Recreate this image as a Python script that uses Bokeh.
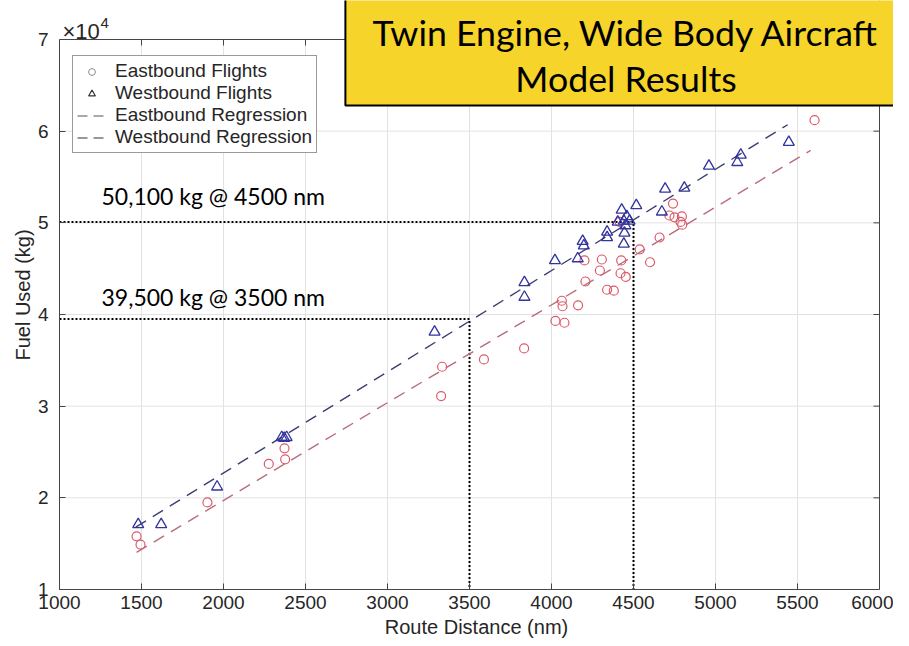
import math
from bokeh.plotting import figure
from bokeh.models import (Range1d, Label, Legend, LegendItem, FixedTicker, Span)
from bokeh.embed import file_html
from bokeh.resources import INLINE

# ---------------- data (fuel in units of 10^4 kg) ----------------
east_dist = [1470, 1494, 1902, 2276, 2372, 2376, 3327, 3333, 3588, 3833,
             4024, 4079, 4063, 4067, 4162, 4207, 4201, 4295, 4307, 4339,
             4380, 4425, 4421, 4453, 4416, 4538, 4601, 4659, 4719, 4741,
             4750, 4795, 4787, 4797, 5604]
east_fuel = [1.58, 1.49, 1.95, 2.37, 2.54, 2.42, 3.11, 3.43, 3.51, 3.63,
             3.93, 3.91, 4.15, 4.09, 4.10, 4.36, 4.59, 4.48, 4.60, 4.27,
             4.26, 4.59, 4.45, 4.41, 5.01, 4.71, 4.57, 4.84, 5.08, 5.21,
             5.06, 5.07, 5.01, 4.98, 6.12]

west_dist = [1480, 1620, 1961, 2355, 2370, 2385, 3287, 3835, 3835, 4021,
             4160, 4190, 4197, 4339, 4339, 4404, 4428, 4441, 4445, 4451,
             4459, 4441, 4476, 4517, 4673, 4693, 4810, 4960, 5133, 5154,
             5447]
west_fuel = [1.71, 1.71, 2.12, 2.66, 2.65, 2.66, 3.81, 4.35, 4.19, 4.59,
             4.61, 4.80, 4.75, 4.90, 4.84, 5.01, 5.14, 5.02, 4.89, 4.97,
             5.07, 4.77, 5.02, 5.19, 5.12, 5.37, 5.38, 5.62, 5.66, 5.74,
             5.88]

east_reg_dist = [1470, 5580]
east_reg_fuel = [1.406, 5.79]
west_reg_dist = [1465, 5440]
west_reg_fuel = [1.68, 6.07]

ref_dist = [4500, 3500]
ref_fuel = [5.01, 3.95]
ref_text = ["50,100 kg @ 4500 nm", "39,500 kg @ 3500 nm"]

x_ticks = [1000, 1500, 2000, 2500, 3000, 3500, 4000, 4500, 5000, 5500, 6000]
y_ticks = [1, 2, 3, 4, 5, 6, 7]
x_title = "Route Distance (nm)"
y_title = "Fuel Used (kg)"
y_scale_base = "\u00d710"
y_scale_exp = "4"
title_lines = ["Twin Engine, Wide Body Aircraft", "Model Results"]
legend_labels = ["Eastbound Flights", "Westbound Flights",
                 "Eastbound Regression", "Westbound Regression"]

# ---------------- layout / styles ----------------
W, H = 893, 642
LEFT, BOTTOM = 59, 53           # borders (px)
AXES_W, AXES_H = 820, 550       # size of the drawn axes box (px)
FRAME_W = W - LEFT              # frame runs to the right / top canvas edge
FRAME_H = H - BOTTOM
AX = "#454545"
TXT = "#262626"
GRID = "#e2e2e2"
SANS = "Liberation Sans"
HUMAN = "Lato"

xlo, xhi = x_ticks[0], x_ticks[-1]
ylo, yhi = y_ticks[0], y_ticks[-1]
x_end = xlo + (xhi - xlo) * FRAME_W / AXES_W
y_end = ylo + (yhi - ylo) * FRAME_H / AXES_H

p = figure(width=W, height=H,
           x_range=Range1d(xlo, x_end), y_range=Range1d(ylo, y_end),
           output_backend="svg", toolbar_location=None,
           min_border_left=LEFT, min_border_right=0,
           min_border_top=0, min_border_bottom=BOTTOM,
           x_axis_label=x_title, y_axis_label=y_title)
p.background_fill_color = "white"
p.border_fill_color = "white"
p.outline_line_color = None
p.xgrid.visible = False
p.ygrid.visible = False


def style_axis(ax, ticks, bounds):
    ax.ticker = FixedTicker(ticks=ticks)
    ax.bounds = bounds
    ax.major_tick_in = 6
    ax.major_tick_out = 0
    ax.minor_tick_line_color = None
    ax.axis_line_color = AX
    ax.major_tick_line_color = AX
    ax.major_label_text_font = SANS
    ax.major_label_text_font_size = "19px"
    ax.major_label_text_color = TXT
    ax.axis_label_text_font = SANS
    ax.axis_label_text_font_size = "20px"
    ax.axis_label_text_font_style = "normal"
    ax.axis_label_text_color = TXT


style_axis(p.xaxis[0], x_ticks, (xlo, xhi))
style_axis(p.yaxis[0], y_ticks, (ylo, yhi))
p.xaxis[0].major_label_standoff = 6
p.xaxis[0].axis_label_standoff = 4
p.yaxis[0].major_label_standoff = 11
p.yaxis[0].axis_label_standoff = 1

# grid (limited to the axes box)
p.segment(x0=x_ticks[1:-1], y0=[ylo] * (len(x_ticks) - 2),
          x1=x_ticks[1:-1], y1=[yhi] * (len(x_ticks) - 2),
          line_color=GRID, line_width=1)
p.segment(x0=[xlo] * (len(y_ticks) - 2), y0=y_ticks[1:-1],
          x1=[xhi] * (len(y_ticks) - 2), y1=y_ticks[1:-1],
          line_color=GRID, line_width=1)

# box top / right edges with inward ticks
p.add_layout(Span(location=yhi, dimension="width", line_color=AX,
                  line_width=1))
p.add_layout(Span(location=xhi, dimension="height", line_color=AX,
                  line_width=1))
p.ray(x=x_ticks[1:-1], y=[yhi] * (len(x_ticks) - 2), length=6,
      length_units="screen", angle=-math.pi / 2, line_color=AX)
p.ray(x=[xhi] * (len(y_ticks) - 2), y=y_ticks[1:-1], length=6,
      length_units="screen", angle=math.pi, line_color=AX)

# reference dotted lines
for xv, yv in zip(ref_dist, ref_fuel):
    p.line([xlo, xv, xv], [yv, yv, ylo], line_dash="2 2", line_width=2,
           line_color="black")

# regression lines
p.line(west_reg_dist, west_reg_fuel, line_dash="12 8", line_width=1.4,
       line_color="#3d3f70")
p.line(east_reg_dist, east_reg_fuel, line_dash="12 8", line_width=1.4,
       line_color="#b96c7e")

# flights
p.scatter(east_dist, east_fuel, marker="circle", size=9, fill_color=None,
          line_color="#dc5a6a", line_width=1.2)
p.scatter(west_dist, west_fuel, marker="triangle", size=11, fill_color=None,
          line_color="#34349e", line_width=1.3)

# legend (grey proxies, like the original)
nan = [float("nan")]
lg_e = p.scatter(nan, nan, marker="circle", size=7, fill_color=None,
                 line_color="#8c8c8c", line_width=1)
lg_w = p.scatter(nan, nan, marker="triangle", size=7, fill_color=None,
                 line_color="#333333", line_width=1.2)
lg_er = p.line(nan, nan, line_dash="10 6", line_width=1.2,
               line_color="#555555")
lg_wr = p.line(nan, nan, line_dash="10 6", line_width=1.2,
               line_color="#333333")
legend = Legend(items=[LegendItem(label=legend_labels[0], renderers=[lg_e]),
                       LegendItem(label=legend_labels[1], renderers=[lg_w]),
                       LegendItem(label=legend_labels[2], renderers=[lg_er]),
                       LegendItem(label=legend_labels[3], renderers=[lg_wr])],
                location=(13, 436), label_text_font=SANS,
                label_text_font_size="19px",
                label_text_color=TXT,
                glyph_width=29, glyph_height=17, label_height=17,
                label_standoff=9, spacing=0, padding=4, margin=0,
                border_line_color="#333333", border_line_width=1,
                background_fill_color="white", background_fill_alpha=1)
p.add_layout(legend)

# annotations for reference points
for xv, yv, t, dy in zip(ref_dist, ref_fuel, ref_text, [26, 22]):
    p.add_layout(Label(x=xlo, y=yv, x_offset=42, y_offset=dy, text=t,
                       text_font=HUMAN, text_font_size="23px",
                       text_color="black", text_baseline="alphabetic"))

# x10^4 exponent label
p.add_layout(Label(x=xlo, y=yhi, x_offset=3, y_offset=8,
                   text=y_scale_base, text_font=SANS, text_font_size="22px",
                   text_color=TXT, text_baseline="alphabetic"))
p.add_layout(Label(x=xlo, y=yhi, x_offset=41, y_offset=17,
                   text=y_scale_exp, text_font=SANS, text_font_size="15px",
                   text_color=TXT, text_baseline="alphabetic"))

# title box with shadow
title_text = "\n".join(title_lines)
pad = dict(left=27, right=15, top=60, bottom=5)
TX, TY = 560.5, 561
TFS = "35.7px"
TLH = 1.07
for dx, dy, alpha in [(5, -5, 0.22), (3, -3, 0.45)]:
    p.add_layout(Label(x=TX + dx, y=TY + dy, x_units="screen",
                       y_units="screen", text=title_text,
                       text_font=HUMAN, text_font_size=TFS,
                       text_align="center", text_baseline="middle",
                       text_line_height=TLH, text_alpha=0,
                       background_fill_color="#222222",
                       background_fill_alpha=alpha, padding=pad))
p.add_layout(Label(x=TX, y=TY, x_units="screen", y_units="screen",
                   text=title_text, text_font=HUMAN, text_font_size=TFS,
                   text_align="center", text_baseline="middle",
                   text_line_height=TLH, text_color="black",
                   background_fill_color="#f6d42a", background_fill_alpha=1,
                   border_line_color="black", border_line_width=2,
                   padding=pad))

open("out.html", "w").write(file_html(p, INLINE))
